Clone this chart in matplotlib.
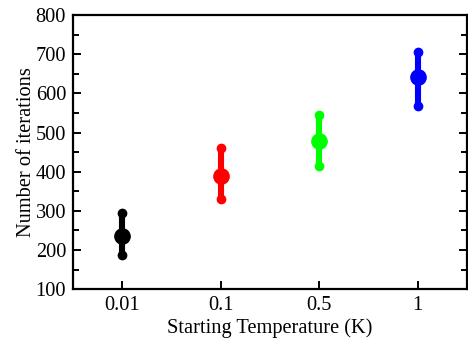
import matplotlib.pyplot as plt
from matplotlib.ticker import MultipleLocator

plt.rcParams['font.family'] = ['Liberation Serif', 'DejaVu Serif']

temps = ['0.01', '0.1', '0.5', '1']
iters = [237, 389, 479, 641]
upper = [295, 460, 545, 707]
lower = [187, 330, 414, 567]
colors = ['black', 'red', '#00ff00', 'blue']

fig = plt.figure(figsize=(4.68, 3.43), dpi=100)
ax = fig.add_axes([0.156, 0.157, 0.842, 0.799])

for i, (y, hi, lo, c) in enumerate(zip(iters, upper, lower, colors)):
    x = i + 0.5
    ax.errorbar([x], [y], yerr=[[y - lo], [hi - y]], fmt='o', color=c,
                ms=11, elinewidth=4.4, capsize=0, zorder=3)
    # round ends on the error bars
    ax.plot([x, x], [lo, hi], 'o', color=c, ms=6, zorder=3)

ax.set_xlim(0, 4)
ax.set_ylim(100, 800)
ax.set_xticks([i + 0.5 for i in range(len(temps))])
ax.set_xticklabels(temps)
ax.yaxis.set_major_locator(MultipleLocator(100))
ax.yaxis.set_minor_locator(MultipleLocator(50))

for s in ax.spines.values():
    s.set_linewidth(1.6)
ax.tick_params(axis='both', direction='in', labelsize=14.7, width=1.4, length=6, pad=5)
ax.tick_params(axis='y', which='both', right=True)
ax.tick_params(axis='y', which='minor', direction='in', width=1.4, length=4)

ax.set_xlabel('Starting Temperature (K)', fontsize=14.7, labelpad=2)
ax.set_ylabel('Number of iterations', fontsize=14.7, labelpad=0)

fig.savefig('out.png', dpi=100)
